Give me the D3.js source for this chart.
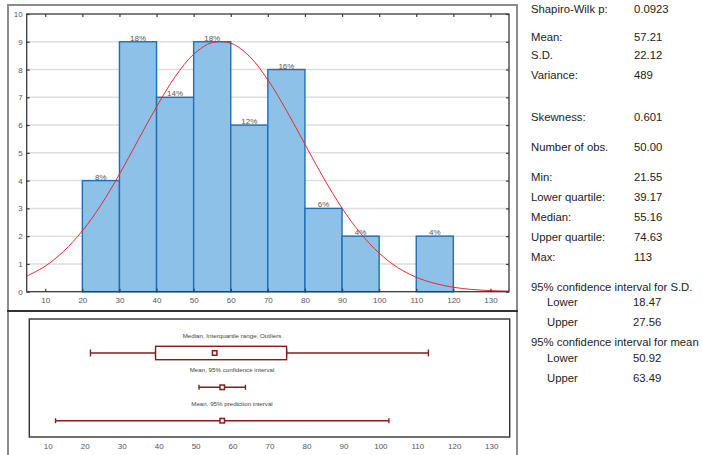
<!DOCTYPE html>
<html>
<head>
<meta charset="utf-8">
<script src="https://cdn.jsdelivr.net/npm/d3@7"></script>
<style>
  html, body { margin: 0; padding: 0; background: #fff; }
  svg { display: block; font-family: "Liberation Sans", Arial, sans-serif; }
</style>
</head>
<body>
<svg id="chart" width="702" height="455"></svg>
<script>
// ---------- DATA ----------
const binStarts = [20, 30, 40, 50, 60, 70, 80, 90, 100, 110];
const binWidth = 10;
const counts = [4, 9, 7, 9, 6, 8, 3, 2, 0, 2];
const percentLabels = ["8%", "18%", "14%", "18%", "12%", "16%", "6%", "4%", "", "4%"];
const xTicks = [10, 20, 30, 40, 50, 60, 70, 80, 90, 100, 110, 120, 130];
const yTicks = [0, 1, 2, 3, 4, 5, 6, 7, 8, 9, 10];
// fitted normal curve (x, expected count)
const curveX = [5, 10, 15, 20, 25, 30, 35, 40, 45, 50, 55, 60, 65, 70, 75, 80, 85, 90, 95, 100, 105, 110, 115, 120, 125, 130, 135];
const curveY = [0.56, 0.92, 1.46, 2.19, 3.12, 4.23, 5.45, 6.66, 7.74, 8.55, 8.97, 8.95, 8.48, 7.63, 6.53, 5.31, 4.10, 3.01, 2.10, 1.39, 0.87, 0.52, 0.30, 0.16, 0.08, 0.04, 0.02];

// box plot rows
const boxStats = [21.55, 39.17, 55.16, 74.63, 113]; // min, q1, median, q3, max
const meanCI = [50.92, 57.21, 63.49];               // lower, mean, upper
const meanPI = [12.1, 57.21, 102.3];                // lower, mean, upper
const rowLabels = ["Median, Interquartile range, Outliers", "Mean, 95% confidence interval", "Mean, 95% prediction interval"];

// statistics text
const statLabels = ["Shapiro-Wilk p:", "Mean:", "S.D.", "Variance:", "Skewness:", "Number of obs.", "Min:", "Lower quartile:", "Median:", "Upper quartile:", "Max:", "95% confidence interval for S.D.", "Lower", "Upper", "95% confidence interval for mean", "Lower", "Upper"];
const statValues = ["0.0923", "57.21", "22.12", "489", "0.601", "50.00", "21.55", "39.17", "55.16", "74.63", "113", "", "18.47", "27.56", "", "50.92", "63.49"];
const statIndent = [0, 0, 0, 0, 0, 0, 0, 0, 0, 0, 0, 0, 1, 1, 0, 1, 1];

// ---------- LAYOUT ----------
const svg = d3.select("#chart");
const FONT_SMALL = 8;
const tickColor = "#555";
const frameGray = "#8c8c8c";
const boxRed = "#8b1a1a";

// outer frames
svg.append("line").attr("x1", 7).attr("x2", 518).attr("y1", 5).attr("y2", 5).attr("stroke", frameGray).attr("stroke-width", 2);
svg.append("line").attr("x1", 8).attr("x2", 8).attr("y1", 4).attr("y2", 455).attr("stroke", frameGray).attr("stroke-width", 2);
svg.append("line").attr("x1", 517).attr("x2", 517).attr("y1", 4).attr("y2", 455).attr("stroke", frameGray).attr("stroke-width", 2);
svg.append("line").attr("x1", 7).attr("x2", 518).attr("y1", 311).attr("y2", 311).attr("stroke", "#333").attr("stroke-width", 2);

// ---------- HISTOGRAM ----------
const H = { left: 26.7, right: 509, top: 14, bottom: 291.7 };
const x = d3.scaleLinear().domain([5, 135]).range([H.left, H.right]);
const y = d3.scaleLinear().domain([0, 10]).range([H.bottom, H.top]);

const histG = svg.append("g");

// grid
histG.append("g").selectAll("line").data(yTicks.filter(d => d > 0 && d < 10)).join("line")
  .attr("x1", H.left).attr("x2", H.right)
  .attr("y1", d => y(d)).attr("y2", d => y(d))
  .attr("stroke", "#dedede").attr("stroke-width", 1.5);

// bars
histG.append("g").selectAll("rect").data(binStarts).join("rect")
  .attr("x", d => x(d))
  .attr("width", d => x(d + binWidth) - x(d))
  .attr("y", (d, i) => y(counts[i]))
  .attr("height", (d, i) => y(0) - y(counts[i]))
  .attr("fill", "#8ec1e8")
  .attr("stroke", "#1f6fb6")
  .attr("stroke-width", 1.4);

// percent labels
histG.append("g").selectAll("text").data(binStarts).join("text")
  .attr("x", d => x(d + binWidth / 2))
  .attr("y", (d, i) => y(counts[i]) - 1)
  .attr("text-anchor", "middle")
  .attr("font-size", FONT_SMALL)
  .attr("fill", tickColor)
  .text((d, i) => counts[i] > 0 ? percentLabels[i] : "");

// normal curve
const line = d3.line().x((d, i) => x(curveX[i])).y(d => y(d)).curve(d3.curveCatmullRom);
histG.append("path").datum(curveY).attr("d", line)
  .attr("fill", "none").attr("stroke", "#e8292e").attr("stroke-width", 1);

// frame
histG.append("rect").attr("x", H.left).attr("y", H.top)
  .attr("width", H.right - H.left).attr("height", H.bottom - H.top)
  .attr("fill", "none").attr("stroke", "#3a3a3a").attr("stroke-width", 1.3);

function styleAxis(g) {
  g.select(".domain").remove();
  g.selectAll(".tick line").attr("stroke", "#3a3a3a").attr("stroke-width", 1.2);
  g.selectAll(".tick text").attr("fill", tickColor).attr("font-size", FONT_SMALL)
    .attr("font-family", "Liberation Sans, Arial, sans-serif");
}
histG.append("g").attr("transform", `translate(0,${H.bottom})`)
  .call(d3.axisBottom(x).tickValues(xTicks).tickSize(-3).tickPadding(6)).call(styleAxis);
histG.append("g").attr("transform", `translate(0,${H.top})`)
  .call(d3.axisTop(x).tickValues(xTicks).tickSize(-3).tickFormat("")).call(styleAxis);
histG.append("g").attr("transform", `translate(${H.left},0)`)
  .call(d3.axisLeft(y).tickValues(yTicks).tickSize(-3).tickPadding(4)).call(styleAxis);
histG.append("g").attr("transform", `translate(${H.right},0)`)
  .call(d3.axisRight(y).tickValues(yTicks).tickSize(-3).tickFormat("")).call(styleAxis);

// ---------- BOX PLOT PANEL ----------
const B = { left: 29.3, right: 509.7, top: 319, bottom: 437 };
const xb = d3.scaleLinear().domain([5, 135]).range([B.left, B.right]);
const bot = svg.append("g");
bot.append("rect").attr("x", B.left).attr("y", B.top)
  .attr("width", B.right - B.left).attr("height", B.bottom - B.top)
  .attr("fill", "none").attr("stroke", "#333").attr("stroke-width", 1.4);

bot.append("g").attr("transform", `translate(0,${B.bottom})`)
  .call(d3.axisBottom(xb).tickValues(xTicks).tickSize(0).tickPadding(6)).call(styleAxis);

const labelX = 232;
const rowLabelY = [335.7, 370, 403.7];
const rowY = [353, 387.3, 420.7];
bot.append("g").selectAll("text").data(rowLabels).join("text")
  .attr("x", labelX).attr("y", (d, i) => rowLabelY[i]).attr("dy", "0.35em")
  .attr("text-anchor", "middle").attr("font-size", 6.2).attr("fill", "#444")
  .text(d => d);

function marker(g, cx, cy, s) {
  g.append("rect").attr("x", cx - s / 2).attr("y", cy - s / 2).attr("width", s).attr("height", s)
    .attr("fill", "#fff").attr("stroke", boxRed).attr("stroke-width", 1.5);
}
function whisker(g, x1, x2, cy, cap) {
  g.append("line").attr("x1", x1).attr("x2", x2).attr("y1", cy).attr("y2", cy)
    .attr("stroke", boxRed).attr("stroke-width", 1.4);
  [x1, x2].forEach(xx => g.append("line").attr("x1", xx).attr("x2", xx)
    .attr("y1", cy - cap / 2).attr("y2", cy + cap / 2)
    .attr("stroke", boxRed).attr("stroke-width", 1.4));
}

// row 1: box plot
const r1 = bot.append("g");
whisker(r1, xb(boxStats[0]), xb(boxStats[1]), rowY[0], 7);
whisker(r1, xb(boxStats[3]), xb(boxStats[4]), rowY[0], 7);
r1.append("rect").attr("x", xb(boxStats[1])).attr("y", rowY[0] - 6.7)
  .attr("width", xb(boxStats[3]) - xb(boxStats[1])).attr("height", 13.4)
  .attr("fill", "#fff").attr("stroke", boxRed).attr("stroke-width", 1.4);
marker(r1, xb(boxStats[2]), rowY[0], 4.5);

// row 2: mean CI
const r2 = bot.append("g");
whisker(r2, xb(meanCI[0]), xb(meanCI[2]), rowY[1], 5);
marker(r2, xb(meanCI[1]), rowY[1], 4.5);

// row 3: mean PI
const r3 = bot.append("g");
whisker(r3, xb(meanPI[0]), xb(meanPI[2]), rowY[2], 5);
marker(r3, xb(meanPI[1]), rowY[2], 4.5);

// ---------- STATISTICS TEXT ----------
const statY = [9, 37, 55, 75, 117, 147, 177, 197, 217, 237, 257, 287, 302, 322, 342, 358, 378];
const st = svg.append("g").attr("font-size", 11.3).attr("fill", "#222");
st.selectAll("text.lab").data(statLabels).join("text").attr("class", "lab")
  .attr("x", (d, i) => statIndent[i] ? 547 : 531)
  .attr("y", (d, i) => statY[i]).attr("dy", "0.35em")
  .text(d => d);
st.selectAll("text.val").data(statValues).join("text").attr("class", "val")
  .attr("x", (d, i) => statIndent[i] ? 633 : 634)
  .attr("y", (d, i) => statY[i]).attr("dy", "0.35em")
  .text(d => d);
</script>
</body>
</html>
